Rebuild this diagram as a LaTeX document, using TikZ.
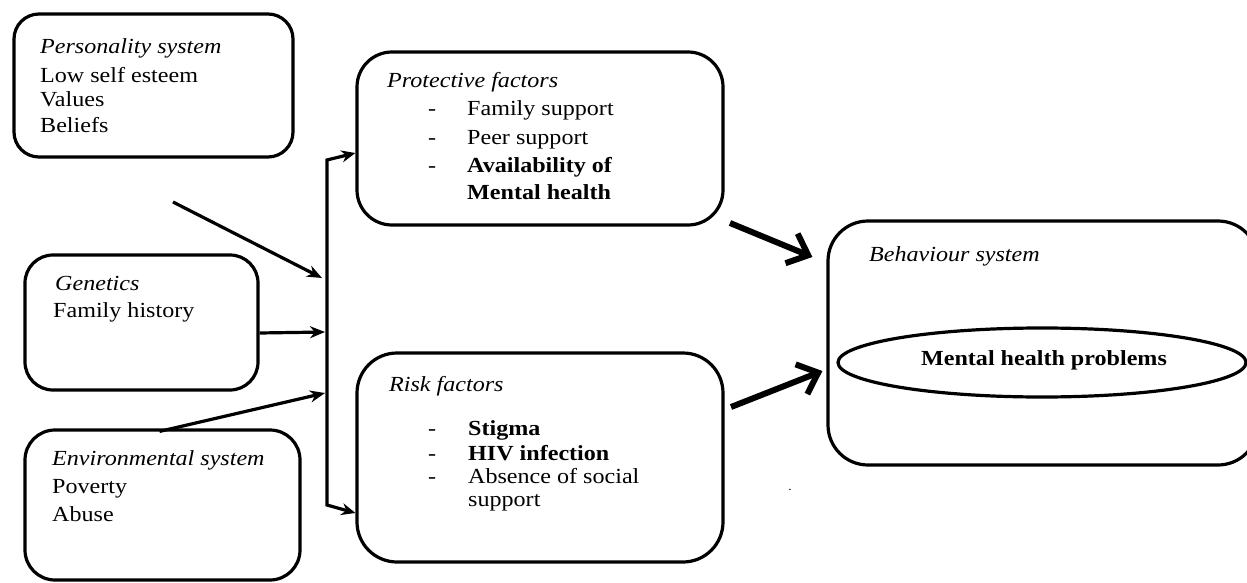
\documentclass[tikz,border=0pt]{standalone}
\usepackage{fontspec}
\setmainfont{Liberation Serif}[FakeStretch=1.12]
\usetikzlibrary{arrows.meta,shapes.geometric}
\newcommand\myfs{\fontsize{21.5}{25}\selectfont}
\tikzset{
  box/.style={draw, line width=3.2pt, rounded corners=#1, inner sep=0pt},
  box/.default=30pt,
  txt/.style={anchor=base west, inner sep=0pt, font=\myfs},
  conn/.style={line width=3.2pt, -{Stealth[length=15pt,width=12pt]}},
  fat/.style={line width=6pt, -{Straight Barb[length=18pt,width=32pt]}},
}
\begin{document}
\begin{tikzpicture}[x=1pt,y=-1pt]
\useasboundingbox (0,0) rectangle (1247,583);
% boxes
\node[box=25pt, minimum width=279pt, minimum height=143pt] (pers) at (153.5,85.5) {};
\node[box=28pt, minimum width=233pt, minimum height=135pt] (gen) at (141.5,322.5) {};
\node[box=30pt, minimum width=275pt, minimum height=150pt] (env) at (162.5,505) {};
\node[box=35pt, minimum width=366pt, minimum height=173pt] (prot) at (540,138.5) {};
\node[box=40pt, minimum width=366pt, minimum height=209pt] (risk) at (540,457.5) {};
\node[box=40pt, minimum width=430pt, minimum height=244pt] (beh) at (1043,343) {};
\node[draw, ellipse, line width=3.2pt, minimum width=408pt, minimum height=69pt, inner sep=0pt] (mhp) at (1042,362.5) {};
% texts
\node[txt] (t1) at (40,54) {\itshape Personality system};
\node[txt] (t2) at (40,83) {Low self esteem};
\node[txt] (t3) at (40,107) {Values};
\node[txt] (t4) at (40,132) {Beliefs};
\node[txt] (g1) at (55,290) {\itshape Genetics};
\node[txt] (g2) at (53,317) {Family history};
\node[txt] (e1) at (52,465) {\itshape Environmental system};
\node[txt] (e2) at (52,493) {Poverty};
\node[txt] (e3) at (52,521) {Abuse};
\node[txt] (p0) at (387,88) {\itshape Protective factors};
\node[txt] (pd1) at (428,116) {-};
\node[txt] (pd2) at (428,144) {-};
\node[txt] (pd3) at (428,172) {-};
\node[txt] (p1) at (467,116) {Family support};
\node[txt] (p2) at (467,144) {Peer support};
\node[txt] (p3) at (467,172) {\bfseries Availability of};
\node[txt] (p4) at (467,199) {\bfseries Mental health};
\node[txt] (r0) at (389,391) {\itshape Risk factors};
\node[txt] (rd1) at (428,435) {-};
\node[txt] (rd2) at (428,460) {-};
\node[txt] (rd3) at (428,483) {-};
\node[txt] (r1) at (468,435) {\bfseries Stigma};
\node[txt] (r2) at (468,460) {\bfseries HIV infection};
\node[txt] (r3) at (468,483) {Absence of social};
\node[txt] (r4) at (468,506) {support};
\node[txt] (b0) at (869,261) {\itshape Behaviour system};
\node[anchor=base, inner sep=0pt, font=\myfs\bfseries] (m0) at (1044,365) {Mental health problems};
\node[anchor=base, inner sep=0pt, font=\fontsize{12}{12}\selectfont] (dot) at (790,490) {.};
% bus
\coordinate (bust) at (327,160);
\coordinate (busb) at (327,505);
\coordinate (b1) at (322,278);
\coordinate (b2) at (325,332);
\coordinate (b3) at (325,393);
\coordinate (ps) at (173,202);
\coordinate (ps2) at (730,223);
\coordinate (rs2) at (731,407);
\draw[line width=3.2pt, {Stealth[length=14pt,width=12pt]}-{Stealth[length=14pt,width=12pt]}]
  ([yshift=-14.5pt]prot.west) -- (bust) -- (busb) -- ([yshift=-55.5pt]risk.west);
\draw[conn] (ps) -- (b1);
\draw[conn] ([yshift=-10.5pt]gen.east) -- (b2);
\draw[conn] ([xshift=-3pt,yshift=-3pt]env.north) -- (b3);
\draw[fat] (ps2) -- ([xshift=-14pt,yshift=86pt]beh.west);
\draw[fat] (rs2) -- ([xshift=-4pt,yshift=-28pt]beh.west);
\end{tikzpicture}
\end{document}
